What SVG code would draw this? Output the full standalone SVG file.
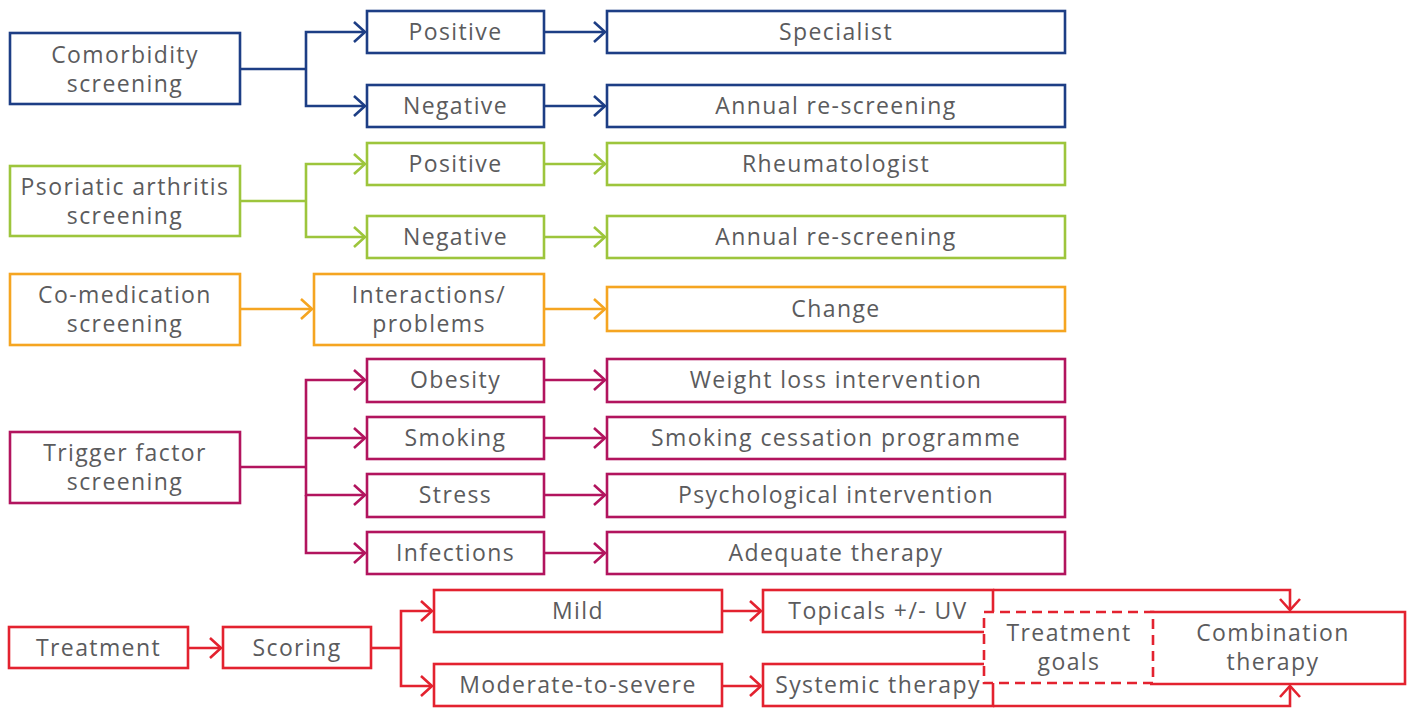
<svg xmlns="http://www.w3.org/2000/svg" width="1410" height="708" viewBox="0 0 1410 708">
<style>
text{font-family:"Open Sans","Liberation Sans",sans-serif;font-size:23px;letter-spacing:1.4px;fill:#5b5b5d;text-anchor:middle}
rect,path{fill:none;stroke-width:2.6}
rect{fill:#fff}
.b{stroke:#1d3e85}.g{stroke:#9dc53c}.o{stroke:#f5a521}.m{stroke:#b2145e}.r{stroke:#e3222f}
.cb path{stroke:#1d3e85;marker-end:url(#aB)}
.cg path{stroke:#9dc53c;marker-end:url(#aG)}
.co path{stroke:#f5a521;marker-end:url(#aO)}
.cm path{stroke:#b2145e;marker-end:url(#aM)}
.cr path{stroke:#e3222f;marker-end:url(#aR)}
path.t{marker-end:none}
.dash{stroke:#e3222f;stroke-dasharray:10 6}
</style>
<defs>
<marker id="aB" markerUnits="userSpaceOnUse" markerWidth="16" markerHeight="26" viewBox="-13 -13 16 26" refX="0" refY="0" orient="auto"><path d="M-11,-10 L0,0 L-11,10" fill="none" stroke="#1d3e85" stroke-width="2.6"/></marker>
<marker id="aG" markerUnits="userSpaceOnUse" markerWidth="16" markerHeight="26" viewBox="-13 -13 16 26" refX="0" refY="0" orient="auto"><path d="M-11,-10 L0,0 L-11,10" fill="none" stroke="#9dc53c" stroke-width="2.6"/></marker>
<marker id="aO" markerUnits="userSpaceOnUse" markerWidth="16" markerHeight="26" viewBox="-13 -13 16 26" refX="0" refY="0" orient="auto"><path d="M-11,-10 L0,0 L-11,10" fill="none" stroke="#f5a521" stroke-width="2.6"/></marker>
<marker id="aM" markerUnits="userSpaceOnUse" markerWidth="16" markerHeight="26" viewBox="-13 -13 16 26" refX="0" refY="0" orient="auto"><path d="M-11,-10 L0,0 L-11,10" fill="none" stroke="#b2145e" stroke-width="2.6"/></marker>
<marker id="aR" markerUnits="userSpaceOnUse" markerWidth="16" markerHeight="26" viewBox="-13 -13 16 26" refX="0" refY="0" orient="auto"><path d="M-11,-10 L0,0 L-11,10" fill="none" stroke="#e3222f" stroke-width="2.6"/></marker>
</defs>
<rect x="0" y="0" width="1410" height="708" fill="#fff" stroke="none"/>

<g id="connectors">
<g class="cb">
<path class="t" d="M240,69H306"/>
<path d="M306,69V32H365"/>
<path d="M306,69V106H365"/>
<path d="M544,32H605"/>
<path d="M544,106H605"/>
</g>
<g class="cg">
<path class="t" d="M240,201H306"/>
<path d="M306,201V164H365"/>
<path d="M306,201V237H365"/>
<path d="M544,164H605"/>
<path d="M544,237H605"/>
</g>
<g class="co">
<path d="M240,309H312"/>
<path d="M544,309H605"/>
</g>
<g class="cm">
<path class="t" d="M240,467H306"/>
<path d="M306,467V380H365"/>
<path d="M306,438H365"/>
<path d="M306,467V495H365"/>
<path d="M306,495V553H365"/>
<path d="M544,380H605"/>
<path d="M544,438H605"/>
<path d="M544,495H605"/>
<path d="M544,553H605"/>
</g>
<g class="cr">
<path d="M188,648H221"/>
<path class="t" d="M371,648H401"/>
<path d="M401,648V611H432"/>
<path d="M401,648V686H432"/>
<path d="M722,611H761"/>
<path d="M722,686H761"/>
<path d="M993,590H1290V610"/>
<path d="M993,706H1290V686"/>
</g>
</g>

<g id="comorbidity"><rect class="b" x="10" y="33" width="230" height="71"/><text x="125" y="63">Comorbidity</text><text x="125" y="92">screening</text></g>
<g id="com-positive"><rect class="b" x="367" y="11" width="177" height="42"/><text x="455.5" y="40">Positive</text></g>
<g id="specialist"><rect class="b" x="607" y="11" width="458" height="42"/><text x="836" y="40">Specialist</text></g>
<g id="com-negative"><rect class="b" x="367" y="85" width="177" height="42"/><text x="455.5" y="114">Negative</text></g>
<g id="com-annual"><rect class="b" x="607" y="85" width="458" height="42"/><text x="836" y="114">Annual re-screening</text></g>

<g id="psoriatic"><rect class="g" x="10" y="166" width="230" height="70"/><text x="125" y="195">Psoriatic arthritis</text><text x="125" y="224">screening</text></g>
<g id="psa-positive"><rect class="g" x="367" y="143" width="177" height="42"/><text x="455.5" y="172">Positive</text></g>
<g id="rheumatologist"><rect class="g" x="607" y="143" width="458" height="42"/><text x="836" y="172">Rheumatologist</text></g>
<g id="psa-negative"><rect class="g" x="367" y="216" width="177" height="42"/><text x="455.5" y="245">Negative</text></g>
<g id="psa-annual"><rect class="g" x="607" y="216" width="458" height="42"/><text x="836" y="245">Annual re-screening</text></g>

<g id="comedication"><rect class="o" x="10" y="274" width="230" height="71"/><text x="125" y="303">Co-medication</text><text x="125" y="332">screening</text></g>
<g id="interactions"><rect class="o" x="314" y="274" width="230" height="71"/><text x="429" y="303">Interactions/</text><text x="429" y="332">problems</text></g>
<g id="change"><rect class="o" x="607" y="287" width="458" height="44"/><text x="836" y="317">Change</text></g>

<g id="trigger"><rect class="m" x="10" y="432" width="230" height="71"/><text x="125" y="461">Trigger factor</text><text x="125" y="490">screening</text></g>
<g id="obesity"><rect class="m" x="367" y="359" width="177" height="43"/><text x="455.5" y="388">Obesity</text></g>
<g id="weightloss"><rect class="m" x="607" y="359" width="458" height="43"/><text x="836" y="388">Weight loss intervention</text></g>
<g id="smoking"><rect class="m" x="367" y="417" width="177" height="42"/><text x="455.5" y="446">Smoking</text></g>
<g id="cessation"><rect class="m" x="607" y="417" width="458" height="42"/><text x="836" y="446">Smoking cessation programme</text></g>
<g id="stress"><rect class="m" x="367" y="474" width="177" height="43"/><text x="455.5" y="503">Stress</text></g>
<g id="psych"><rect class="m" x="607" y="474" width="458" height="43"/><text x="836" y="503">Psychological intervention</text></g>
<g id="infections"><rect class="m" x="367" y="532" width="177" height="42"/><text x="455.5" y="561">Infections</text></g>
<g id="adequate"><rect class="m" x="607" y="532" width="458" height="42"/><text x="836" y="561">Adequate therapy</text></g>

<g id="treatment"><rect class="r" x="9" y="627" width="179" height="41"/><text x="98.5" y="656">Treatment</text></g>
<g id="scoring"><rect class="r" x="223" y="627" width="148" height="41"/><text x="297" y="656">Scoring</text></g>
<g id="mild"><rect class="r" x="434" y="590" width="288" height="42"/><text x="578" y="619">Mild</text></g>
<g id="moderate"><rect class="r" x="434" y="664" width="288" height="42"/><text x="578" y="693">Moderate-to-severe</text></g>
<g id="topicals"><rect class="r" x="763" y="590" width="230" height="42"/><text x="878" y="619">Topicals +/- UV</text></g>
<g id="systemic"><rect class="r" x="763" y="664" width="230" height="42"/><text x="878" y="693">Systemic therapy</text></g>
<g id="combination"><path class="r" d="M1150,612H1405V684H1150" style="fill:#fff"/><text x="1273" y="641">Combination</text><text x="1273" y="670">therapy</text></g>
<g id="goals"><rect class="dash" x="984" y="612" width="169" height="71"/><text x="1069" y="641">Treatment</text><text x="1069" y="670">goals</text></g>
</svg>
